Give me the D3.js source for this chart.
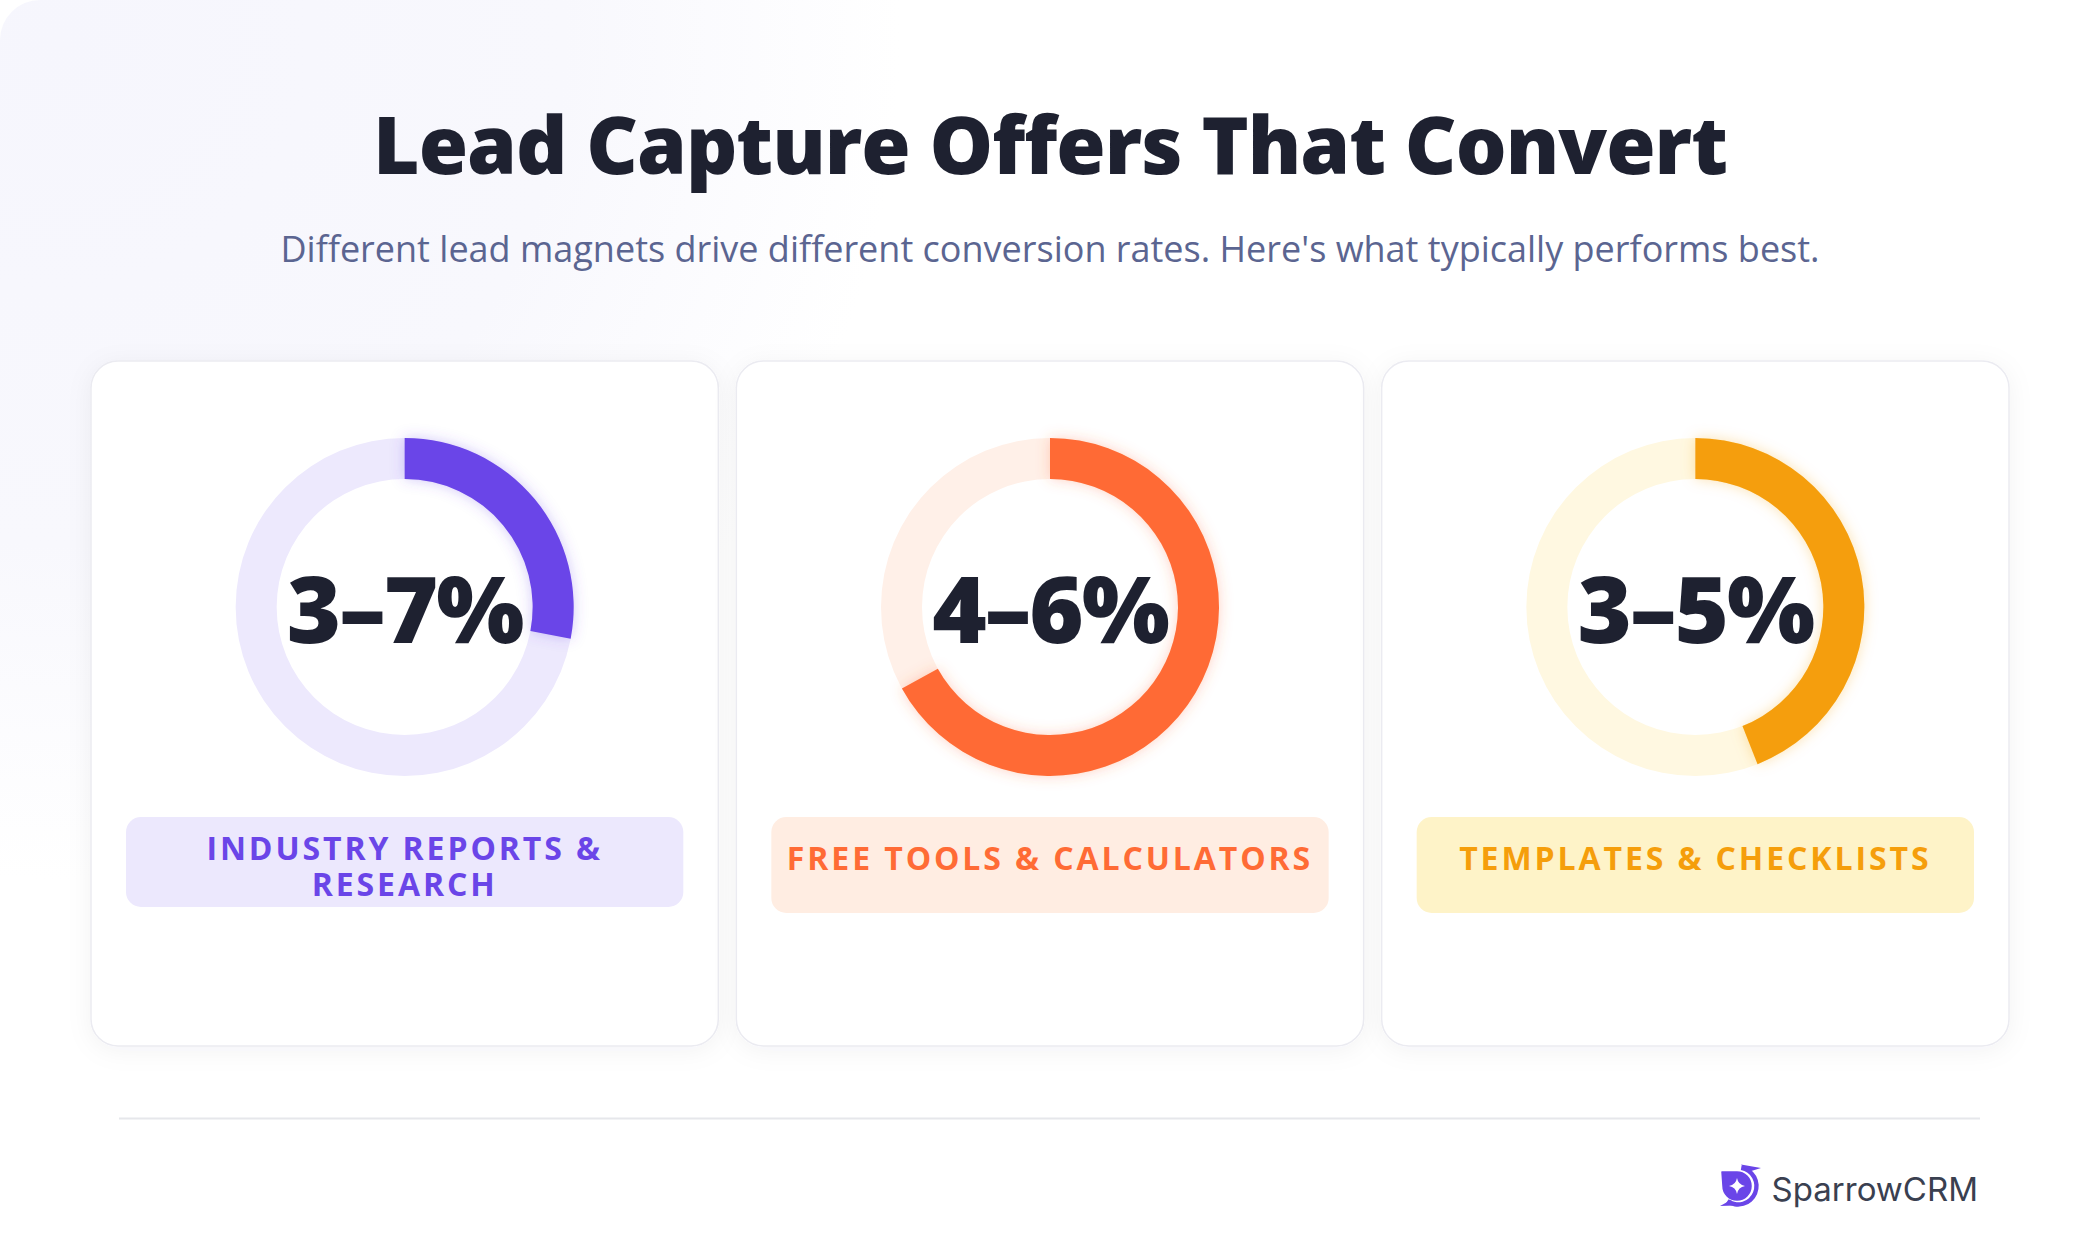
<!DOCTYPE html>
<html>
<head>
<meta charset="utf-8">
<script src="https://cdn.jsdelivr.net/npm/d3@7"></script>
<style>
  html, body { margin: 0; padding: 0; background: #ffffff; }
  svg { display: block; }
</style>
</head>
<body>
<svg id="chart"></svg>
<script>
var width = 2100;
var height = 1250;

// chart data
var titleText = "Lead Capture Offers That Convert";
var subtitleText = "Different lead magnets drive different conversion rates. Here's what typically performs best.";
var categories = ["Industry Reports & Research", "Free Tools & Calculators", "Templates & Checklists"];
var rateLabels = ["3–7%", "4–6%", "3–5%"];
var ringFill = [0.28, 0.67, 0.44];
var mainColors = ["#6a45e8", "#ff6b35", "#f59e0b"];
var trackColors = ["#ede9fd", "#fff0e8", "#fff8e1"];
var pillColors = ["#ece8fd", "#ffede2", "#fef3c8"];
var brandName = "SparrowCRM";

var cardTop = 361, cardHeight = 685;
var donutCy = 246, rInner = 128, rOuter = 169;
var pillInset = 35, pillTop = 456;

var svg = d3.select("#chart")
    .attr("width", width)
    .attr("height", height);

var defs = svg.append("defs");

var bg = defs.append("radialGradient")
    .attr("id", "bgGrad")
    .attr("gradientUnits", "userSpaceOnUse")
    .attr("cx", 60).attr("cy", 40).attr("r", 840);
bg.append("stop").attr("offset", 0).attr("stop-color", "#f6f6fd");
bg.append("stop").attr("offset", 0.6).attr("stop-color", "#f8f8fd");
bg.append("stop").attr("offset", 1).attr("stop-color", "#ffffff");

var cardShadow = defs.append("filter")
    .attr("id", "cardShadow")
    .attr("x", "-10%").attr("y", "-10%").attr("width", "120%").attr("height", "120%");
cardShadow.append("feDropShadow")
    .attr("dx", 0).attr("dy", 4).attr("stdDeviation", 12)
    .attr("flood-color", "#1e2046").attr("flood-opacity", 0.05);

mainColors.forEach(function(c, i) {
    defs.append("filter")
        .attr("id", "glow" + i)
        .attr("x", "-30%").attr("y", "-30%").attr("width", "160%").attr("height", "160%")
      .append("feDropShadow")
        .attr("dx", 0).attr("dy", 0).attr("stdDeviation", 7)
        .attr("flood-color", c).attr("flood-opacity", 0.3);
});

// page background
svg.append("rect")
    .attr("width", width).attr("height", height)
    .attr("rx", 40)
    .attr("fill", "url(#bgGrad)");

// title + subtitle
svg.append("text")
    .attr("x", width / 2).attr("y", 174)
    .attr("text-anchor", "middle")
    .style("font-family", "'Open Sans', sans-serif")
    .style("font-weight", 800)
    .style("font-size", "80px")
    .style("letter-spacing", "-1px")
    .attr("fill", "#1e2130")
    .text(titleText);

svg.append("text")
    .attr("x", width / 2).attr("y", 262)
    .attr("text-anchor", "middle")
    .style("font-family", "'Open Sans', sans-serif")
    .style("font-size", "36px")
    .attr("fill", "#5b6591")
    .text(subtitleText);

// cards
var x = d3.scaleBand()
    .domain(d3.range(categories.length))
    .range([91, 2009])
    .paddingInner(0.0279);

var angle = d3.scaleLinear().domain([0, 1]).range([0, 2 * Math.PI]);

var arc = d3.arc()
    .innerRadius(rInner)
    .outerRadius(rOuter)
    .startAngle(0);

var cards = svg.selectAll("g.card")
    .data(categories)
    .enter()
    .append("g")
        .attr("class", "card")
        .attr("transform", function(d, i) { return "translate(" + x(i) + "," + cardTop + ")"; });

cards.append("rect")
    .attr("width", x.bandwidth())
    .attr("height", cardHeight)
    .attr("rx", 27)
    .attr("fill", "#ffffff")
    .attr("stroke", "#ebebf1")
    .attr("stroke-width", 1.5)
    .attr("filter", "url(#cardShadow)");

var donut = cards.append("g")
    .attr("transform", "translate(" + (x.bandwidth() / 2) + "," + donutCy + ")");

donut.append("path")
    .attr("d", arc({ endAngle: angle(1) }))
    .attr("fill", function(d, i) { return trackColors[i]; });

donut.append("path")
    .attr("d", function(d, i) { return arc({ endAngle: angle(ringFill[i]) }); })
    .attr("fill", function(d, i) { return mainColors[i]; })
    .attr("filter", function(d, i) { return "url(#glow" + i + ")"; });

donut.append("text")
    .attr("y", 36)
    .attr("text-anchor", "middle")
    .style("font-family", "'Open Sans', sans-serif")
    .style("font-weight", 800)
    .style("font-size", "93px")
    .style("letter-spacing", "-2px")
    .attr("fill", "#1e2130")
    .text(function(d, i) { return rateLabels[i]; });

// label pills, wrapped to pill width
var pillW = x.bandwidth() - 2 * pillInset;

cards.each(function(d, i) {
    var g = d3.select(this);
    var pill = g.append("rect")
        .attr("x", pillInset).attr("y", pillTop)
        .attr("width", pillW)
        .attr("rx", 15)
        .attr("fill", pillColors[i]);

    var label = g.append("text")
        .attr("text-anchor", "middle")
        .style("font-family", "'Open Sans', sans-serif")
        .style("font-weight", 700)
        .style("font-size", "32px")
        .style("letter-spacing", "2.9px")
        .attr("fill", mainColors[i]);

    var words = d.toUpperCase().split(" ");
    var lines = [], line = [];
    var probe = label.append("tspan");
    words.forEach(function(w) {
        line.push(w);
        probe.text(line.join(" "));
        if (probe.node().getComputedTextLength() > pillW - 8 && line.length > 1) {
            line.pop();
            lines.push(line.join(" "));
            line = [w];
        }
    });
    lines.push(line.join(" "));
    probe.remove();

    var first = lines.length === 1 ? 53 : 43;
    lines.forEach(function(t, k) {
        label.append("tspan")
            .attr("x", x.bandwidth() / 2)
            .attr("y", pillTop + first + k * 36)
            .text(t);
    });
    pill.attr("height", lines.length === 1 ? 96 : 90);
});

// footer
svg.append("line")
    .attr("x1", 119).attr("x2", 1980)
    .attr("y1", 1118.5).attr("y2", 1118.5)
    .attr("stroke", "#e6e7eb")
    .attr("stroke-width", 2);

svg.append("text")
    .attr("x", 1978).attr("y", 1201)
    .attr("text-anchor", "end")
    .style("font-family", "Inter, sans-serif")
    .style("font-size", "33px")
    .attr("fill", "#3a4050")
    .text(brandName);

// logo mark
var logo = svg.append("g").attr("fill", "#6a45e8");
logo.append("path")
    .attr("d", "M1722,1172 L1737,1172 A14,14 0 1 1 1723,1186 Z")
    .attr("stroke", "#6a45e8").attr("stroke-width", 1.5).attr("stroke-linejoin", "round");
var ringA = (-80) * Math.PI / 180, ringB = 125 * Math.PI / 180;
logo.append("path")
    .attr("d", d3.arc().innerRadius(16.3).outerRadius(20.7)
        .startAngle(ringA + Math.PI / 2).endAngle(ringB + Math.PI / 2)())
    .attr("transform", "translate(1738,1186)");
logo.append("path").attr("d", "M1741,1164.5 L1761,1168 L1748,1172 Z");
logo.append("path").attr("d", "M1731,1200 L1720,1206 L1735,1205.5 Z");
logo.append("path")
    .attr("fill", "#ffffff")
    .attr("d", "M1737,1178 Q1738.2,1184.8 1745,1186 Q1738.2,1187.2 1737,1194 Q1735.8,1187.2 1729,1186 Q1735.8,1184.8 1737,1178 Z");
</script>
</body>
</html>
